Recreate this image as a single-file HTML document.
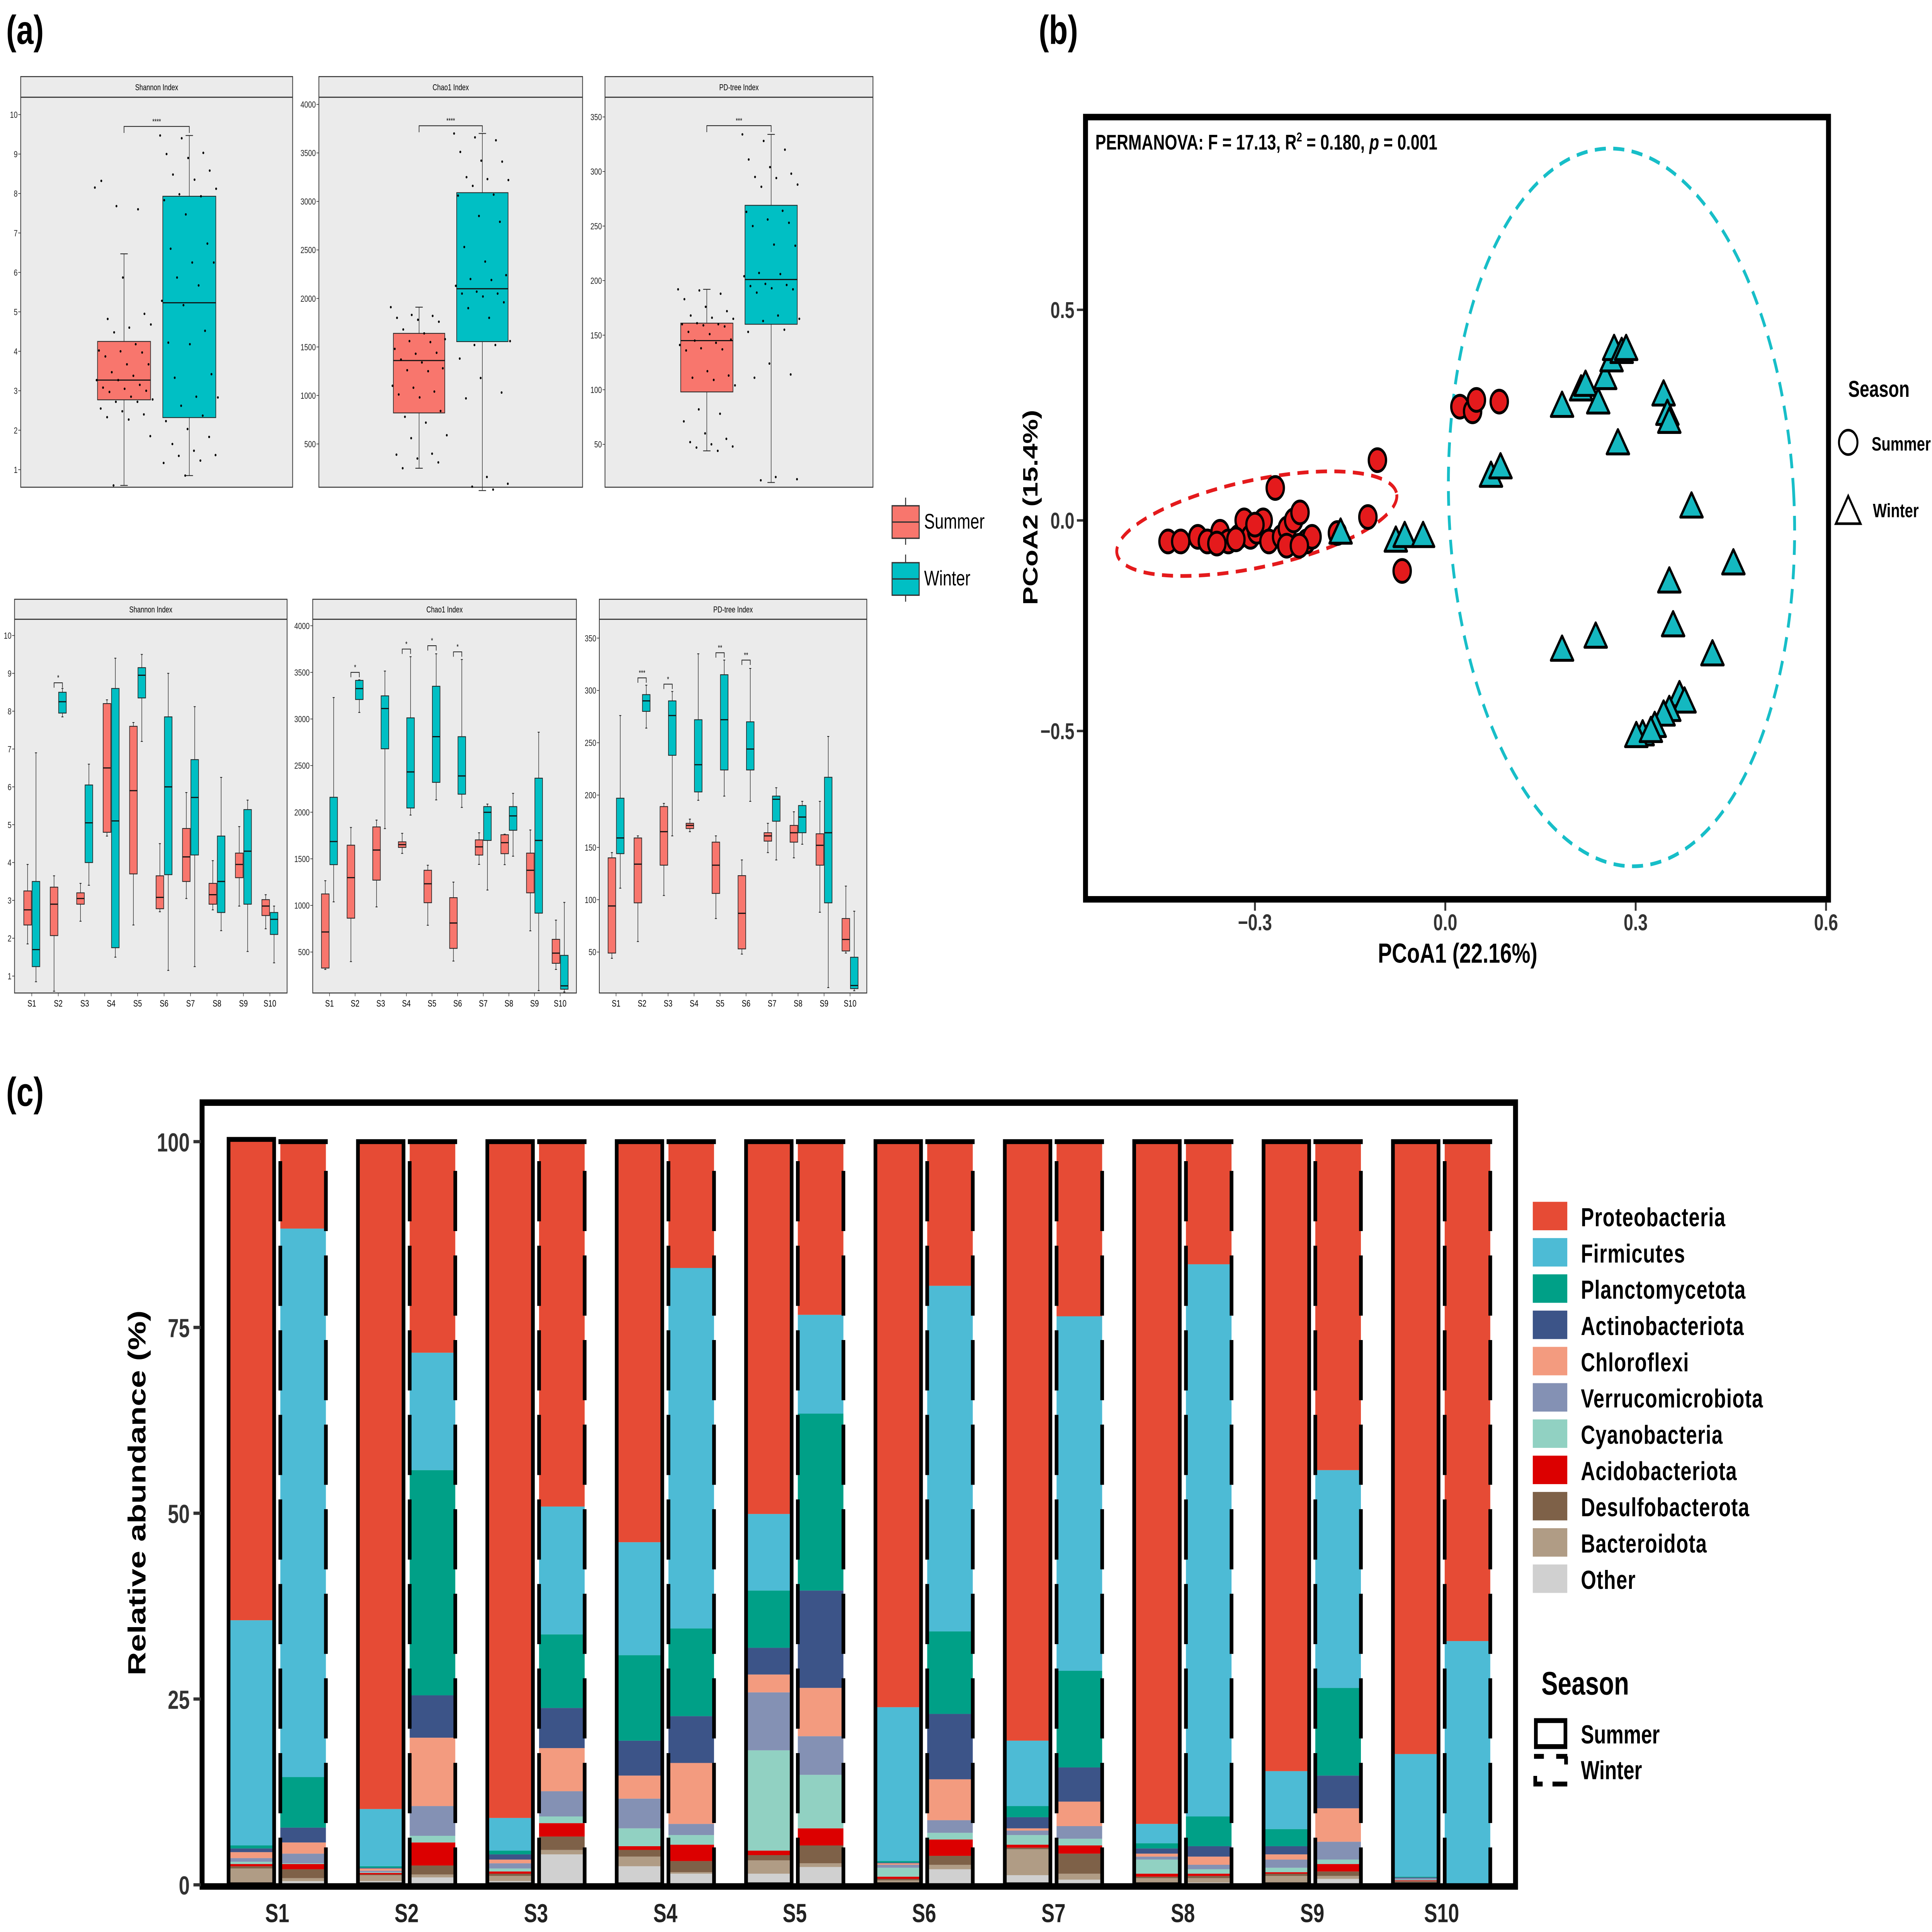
<!DOCTYPE html>
<html><head><meta charset="utf-8"><style>
html,body{margin:0;padding:0;background:#fff;width:100%;height:100%;overflow:hidden}
svg{display:block;position:fixed;left:0;top:0;width:100vw;height:100vh}
text{font-family:"Liberation Sans",Arial,sans-serif}
</style></head><body>
<svg id="fig" xmlns="http://www.w3.org/2000/svg" viewBox="0 0 1568 1188" preserveAspectRatio="none">
<rect x="0" y="0" width="1568" height="1188" fill="#fff"/>
<text x="5" y="27" font-size="25" font-weight="bold">(a)</text>
<text x="843" y="27" font-size="25" font-weight="bold">(b)</text>
<text x="5" y="680" font-size="25" font-weight="bold">(c)</text>
<g id="pa"></g>
<g id="pb"></g>
<g id="pc"></g>
</svg>
<script>
// ===== Panel (a) data =====
const sites = ["S1","S2","S3","S4","S5","S6","S7","S8","S9","S10"];
const shanSummer = [0.6,2.77,3.27,4.25,6.47];
const shanWinter = [0.85,2.32,5.23,7.93,9.47];
const chaoSummer = [250,820,1360,1640,1910];
const chaoWinter = [20,1555,2100,3090,3700];
const pdSummer = [44,98,145,161,192];
const pdWinter = [15,160,201,269,334];
const shanSumPts = [8.15,7.68,7.6,8.32,5.87,4.95,4.82,4.6,4.68,4.48,4.18,4.02,4.0,3.97,3.87,3.67,3.67,3.47,3.38,3.27,3.27,3.15,3.08,3.05,3.0,2.97,2.85,2.78,2.72,2.72,2.55,2.48,2.4,2.33,2.27,1.85,0.6];
const shanWinPts = [9.47,9.4,9.03,9.0,8.9,8.58,8.48,8.35,8.12,7.98,7.93,7.83,7.47,6.73,6.6,6.25,6.25,5.87,5.67,5.28,5.17,4.52,4.22,4.18,3.42,3.33,2.85,2.83,2.62,2.37,2.23,2.03,1.83,1.65,1.48,1.37,1.35,1.23,1.17,0.85];
const chaoSumPts = [1910,1830,1820,1800,1780,1760,1680,1640,1580,1560,1550,1480,1430,1440,1370,1340,1280,1260,1250,1100,1080,1040,1010,980,840,780,720,590,560,400,390,350,310,250];
const chaoWinPts = [3700,3660,3630,3510,3420,3410,3250,3230,3220,3160,3070,3060,2850,2790,2530,2380,2240,2200,2190,2130,2070,2050,2050,2020,1960,1900,1800,1560,1520,1520,1380,1180,1030,970,160,90,60,30];
const pdSumPts = [192,191,188,183,176,172,168,166,165,161,160,160,159,158,153,151,146,145,143,141,138,137,136,117,113,111,109,104,82,78,71,60,55,52,50,48,47,44];
const pdWinPts = [334,328,320,311,304,298,295,294,288,286,264,263,256,253,250,233,232,207,206,204,197,196,195,193,192,189,168,165,163,155,153,124,114,111,20,18,17];
const shanSiteSummer = [[1.85,2.35,2.75,3.25,3.95],[0.6,2.07,2.9,3.35,3.65],[2.45,2.9,3.05,3.2,3.45],[4.7,4.8,6.5,8.2,8.3],[2.35,3.7,5.9,7.6,7.7],[2.7,2.78,3.08,3.65,4.5],[3.05,3.5,4.15,4.9,5.85],[2.75,2.9,3.15,3.45,4.05],[2.85,3.6,3.95,4.25,4.95],[2.25,2.6,2.85,3.02,3.15]];
const shanSiteWinter = [[0.85,1.25,1.7,3.5,6.9],[7.85,7.95,8.25,8.5,8.6],[3.4,4.0,5.05,6.05,6.6],[1.5,1.75,5.1,8.6,9.4],[7.2,8.35,8.95,9.15,9.5],[1.15,3.68,6.0,7.85,9.0],[1.25,4.2,5.72,6.72,8.12],[2.2,2.68,3.5,4.7,6.25],[1.65,2.9,4.3,5.4,5.65],[1.35,2.1,2.5,2.68,2.85]];
const chaoSiteSummer = [[313,328,715,1123,1265],[397,863,1298,1646,1836],[984,1271,1594,1842,1915],[1558,1622,1652,1682,1773],[787,1029,1232,1377,1431],[403,539,811,1083,1250],[1440,1540,1628,1703,1779],[1437,1555,1673,1758,1764],[727,1135,1377,1561,1809],[313,379,488,636,842]];
const chaoSiteWinter = [[1038,1437,1685,2160,3230],[3070,3209,3326,3414,3420],[1824,2680,3112,3248,3514],[1969,2045,2432,3012,3668],[2132,2320,2810,3351,3699],[2051,2193,2389,2810,3638],[1165,1697,1999,2060,2087],[1528,1806,1960,2060,2202],[86,917,1697,2365,2858],[71,101,137,464,1032]];
const pdSiteSummer = [[44,49,94,140,145],[60,97,134,159,161],[104,133,165,189,192],[165,168,171,173,177],[82,106,133,155,161],[48,53,87,123,138],[145,156,161,164,173],[140,155,164,171,184],[88,133,152,163,194],[49,51,62,82,113]];
const pdSiteWinter = [[111,144,159,197,276],[264,280,290,296,305],[161,238,276,290,299],[195,203,229,272,335],[199,224,272,315,329],[194,224,244,270,321],[138,175,196,199,207],[153,164,179,190,194],[16,97,164,217,256],[13,15,18,45,89]];
const shanSig = [[1,8.75,"*"]];
const chaoSig = [[1,3500,"*"],[3,3750,"*"],[4,3786,"*"],[5,3720,"*"]];
const pdSig = [[1,312,"***"],[2,306,"*"],[4,336,"**"],[5,329,"**"]];

// ===== Panel (b) data =====
const sumX = [-0.437,-0.417,-0.39,-0.375,-0.355,-0.342,-0.326,-0.317,-0.307,-0.297,-0.287,-0.278,-0.268,-0.258,-0.249,-0.239,-0.229,-0.219,-0.21,-0.122,-0.107,-0.068,0.023,0.043,0.049,0.085,-0.3,-0.33,-0.36,-0.25,-0.23,-0.17];
const sumY = [-0.05,-0.05,-0.039,-0.05,-0.027,-0.05,-0.039,0.0,-0.039,-0.027,0.0,-0.05,0.077,-0.039,-0.019,0.0,0.019,-0.05,-0.039,0.008,0.143,-0.12,0.27,0.259,0.286,0.282,-0.01,-0.045,-0.055,-0.06,-0.06,-0.03];
const winX = [-0.165,-0.078,-0.064,-0.035,0.072,0.087,0.184,0.214,0.221,0.241,0.252,0.262,0.266,0.278,0.285,0.272,0.344,0.35,0.353,0.388,0.353,0.359,0.454,0.421,0.237,0.184,0.369,0.377,0.353,0.344,0.33,0.311,0.301,0.324];
const winY = [-0.031,-0.05,-0.039,-0.039,0.104,0.124,0.27,0.309,0.32,0.278,0.336,0.378,0.405,0.398,0.405,0.181,0.297,0.251,0.232,0.031,-0.147,-0.251,-0.104,-0.32,-0.278,-0.309,-0.417,-0.432,-0.452,-0.463,-0.49,-0.51,-0.514,-0.502];
const bXTicks = [-0.3,0.0,0.3,0.6];
const bXLabels = ["\u22120.3","0.0","0.3","0.6"];
const bYTicks = [0.5,0.0,-0.5];
const bYLabels = ["0.5","0.0","\u22120.5"];

// ===== Panel (c) data =====
const phyla = ["Other","Bacteroidota","Desulfobacterota","Acidobacteriota","Cyanobacteria","Verrucomicrobiota","Chloroflexi","Actinobacteriota","Planctomycetota","Firmicutes","Proteobacteria"];
const summerAb = [
 [0.3,1.9,0.3,0.3,0.3,0.5,0.8,0.5,0.4,30.3,64.7],
 [0.5,0.8,0.1,0.2,0.1,0.2,0.3,0.1,0.2,7.7,89.8],
 [0.5,0.7,0.3,0.3,0.4,0.7,0.5,0.7,0.5,4.4,91.0],
 [2.5,1.3,0.9,0.5,2.4,4.0,3.1,4.7,11.5,15.2,53.9],
 [1.5,1.8,0.7,0.6,13.5,7.8,2.4,3.6,7.7,10.3,50.1],
 [0.3,0.3,0.2,0.3,1.2,0.4,0.2,0.1,0.2,20.7,76.1],
 [1.3,3.5,0.2,0.4,1.3,0.6,0.3,1.5,1.5,8.8,80.6],
 [0.2,0.7,0.2,0.4,1.9,0.4,0.4,0.7,0.7,2.6,91.8],
 [0.3,0.9,0.3,0.2,0.6,1.1,0.7,1.1,2.3,7.8,84.7],
 [0.2,0.2,0.1,0.1,0.1,0.2,0.0,0.1,0.1,16.5,82.4]];
const winterAb = [
 [0.5,0.4,1.2,0.7,0.1,1.3,1.5,2.0,6.8,73.8,11.7],
 [1.0,0.4,1.2,3.1,0.9,4.0,9.2,5.7,30.3,15.8,28.4],
 [4.1,0.6,1.8,1.8,0.9,3.4,5.8,5.4,9.9,17.2,49.1],
 [1.5,0.2,1.5,2.2,1.3,1.5,8.2,6.3,11.8,48.5,17.0],
 [2.4,0.5,2.4,2.3,7.2,5.2,6.5,13.1,23.8,13.3,23.3],
 [2.1,0.6,1.2,2.2,0.9,1.7,5.5,8.8,11.1,46.5,19.4],
 [0.7,0.8,2.7,1.1,0.9,1.7,3.3,4.6,13.0,47.7,23.5],
 [0.3,0.6,0.3,0.3,0.6,0.6,1.1,1.4,4.0,74.3,16.5],
 [0.8,0.4,0.6,1.0,0.6,2.4,4.5,4.4,11.8,29.3,44.2],
 [0,0,0,0,0,0,0,0,0,32.8,67.2]];
const cYTicks = [0,25,50,75,100];
const legendOrder = ["Proteobacteria","Firmicutes","Planctomycetota","Actinobacteriota","Chloroflexi","Verrucomicrobiota","Cyanobacteria","Acidobacteriota","Desulfobacterota","Bacteroidota","Other"];
const phylaColors = {Proteobacteria:"#E64B35",Firmicutes:"#4DBBD5",Planctomycetota:"#00A087",Actinobacteriota:"#3C5488",Chloroflexi:"#F39B7F",Verrucomicrobiota:"#8491B4",Cyanobacteria:"#91D1C2",Acidobacteriota:"#DC0000",Desulfobacterota:"#7E6148",Bacteroidota:"#B09C85",Other:"#D0D0D0"};

const NS="http://www.w3.org/2000/svg";
function mk(parent,tag,attrs,txt){const e=document.createElementNS(NS,tag);for(const k in attrs)e.setAttribute(k,attrs[k]);if(txt!==undefined)e.textContent=txt;parent.appendChild(e);return e;}
const SUMC="#F8766D", WINC="#00BFC4";

// ---------- Panel a ----------
const pa=document.getElementById('pa');
function facet(x0,x1,yS,yP,yB,title,scale,ticks){
  const g=mk(pa,'g',{});
  
  
  mk(g,'rect',{x:x0,y:yS,width:x1-x0,height:yB-yS,fill:'#EBEBEB',stroke:'#333','stroke-width':0.6});
  mk(g,'line',{x1:x0,x2:x1,y1:yP,y2:yP,stroke:'#333','stroke-width':0.7});
  const t=mk(g,'text',{x:(x0+x1)/2,y:(yS+yP)/2+2,'font-size':5.2,'text-anchor':'middle'},title);
  
  
  ticks.forEach(v=>{const y=scale(v);
    mk(g,'line',{x1:x0-2,x2:x0,y1:y,y2:y,stroke:'#333','stroke-width':0.4});
    const l=mk(g,'text',{x:x0-2.5,y:y+2,'font-size':5.6,'text-anchor':'end',fill:'#222'},String(v));
    
    
  });
  return g;
}
function box(g,cx,w,st,scale,col,cap){
  const [lo,q1,md,q3,hi]=st;
  const b=mk(g,'g',{});
  
  
  mk(b,'line',{x1:cx,x2:cx,y1:scale(lo),y2:scale(hi),stroke:'#222','stroke-width':0.4});
  mk(b,'line',{x1:cx-cap,x2:cx+cap,y1:scale(lo),y2:scale(lo),stroke:'#222','stroke-width':0.5});
  mk(b,'line',{x1:cx-cap,x2:cx+cap,y1:scale(hi),y2:scale(hi),stroke:'#222','stroke-width':0.5});
  mk(b,'rect',{x:cx-w/2,y:scale(q3),width:w,height:scale(q1)-scale(q3),fill:col,stroke:'#222','stroke-width':0.5});
  mk(b,'line',{x1:cx-w/2,x2:cx+w/2,y1:scale(md),y2:scale(md),stroke:'#111','stroke-width':0.7});
}
function pts(g,cx,w,vals,scale){
  vals.forEach((v,i)=>{const dx=(((i*37)%100)/100-0.5)*w;
    const c=mk(g,'circle',{cx:cx+dx,cy:scale(v),r:0.75,fill:'#000'});
    
    
  });
}
function sig(g,xa,xb,y,lab,tick){
  mk(g,'path',{d:`M${xa},${y+tick} V${y} H${xb} V${y+tick}`,fill:'none',stroke:'#222','stroke-width':0.5});
  const t=mk(g,'text',{x:(xa+xb)/2,y:y-1.5,'font-size':4.5,'text-anchor':'middle'},lab);
  
  
}
const sT=v=>288.8-(v-1)*24.26, cT=v=>273-(v-500)/500*29.83, pT=v=>273.2-(v-50)/50*33.55;
const topDefs=[
 [16.8,237.5,"Shannon Index",sT,[1,2,3,4,5,6,7,8,9,10],shanSummer,shanWinter,shanSumPts,shanWinPts,9.7,"****"],
 [258.8,472.8,"Chao1 Index",cT,[500,1000,1500,2000,2500,3000,3500,4000],chaoSummer,chaoWinter,chaoSumPts,chaoWinPts,3780,"****"],
 [491,708.5,"PD-tree Index",pT,[50,100,150,200,250,300,350],pdSummer,pdWinter,pdSumPts,pdWinPts,342,"***"]];
topDefs.forEach(d=>{
  const [x0,x1,tt,sc,tk,bs,bw,ps,pw,sy,sl]=d;
  const g=facet(x0,x1,47.1,59.8,299.6,tt,sc,tk);
  const W=x1-x0, cs=x0+W*0.38, cw=x0+W*0.62, bwid=W*0.195;
  box(g,cs,bwid,bs,sc,SUMC,3); box(g,cw,bwid,bw,sc,WINC,3);
  pts(g,cs,bwid*1.1,ps,sc); pts(g,cw,bwid*1.1,pw,sc);
  sig(g,cs,cw,sc(sy),sl,4);
});
const sB=v=>600.2-(v-1)*23.27, cB=v=>585.4-(v-500)/500*28.66, pB=v=>585.4-(v-50)/50*32.17;
const botDefs=[
 [11.8,233,"Shannon Index",sB,[1,2,3,4,5,6,7,8,9,10],shanSiteSummer,shanSiteWinter,25.8,21.47,shanSig],
 [253.8,467.8,"Chao1 Index",cB,[500,1000,1500,2000,2500,3000,3500,4000],chaoSiteSummer,chaoSiteWinter,267.4,20.8,chaoSig],
 [486.4,703.5,"PD-tree Index",pB,[50,100,150,200,250,300,350],pdSiteSummer,pdSiteWinter,500,21.1,pdSig]];
botDefs.forEach(d=>{
  const [x0,x1,tt,sc,tk,ss,sw,c0,pitch,sg]=d;
  const g=facet(x0,x1,368.5,380.8,610.6,tt,sc,tk);
  sites.forEach((s,i)=>{const cx=c0+i*pitch;
    box(g,cx-3.4,6.2,ss[i],sc,SUMC,0.8); box(g,cx+3.4,6.2,sw[i],sc,WINC,0.8);
    mk(g,'line',{x1:cx,x2:cx,y1:610.6,y2:612.6,stroke:'#333','stroke-width':0.4});
    const l=mk(g,'text',{x:cx,y:619,'font-size':5.8,'text-anchor':'middle'},s);
    
    
  });
  sg.forEach(q=>{const cx=c0+q[0]*pitch; sig(g,cx-3.4,cx+3.4,sc(q[1]),q[2],3);});
});
[["Summer",SUMC,309],["Winter",WINC,344]].forEach(r=>{
  const g=mk(pa,'g',{});
  
  
  mk(g,'line',{x1:735,x2:735,y1:r[2]-3,y2:r[2]+26,stroke:'#333','stroke-width':0.8});
  mk(g,'rect',{x:724,y:r[2]+2,width:22,height:20,fill:r[1],stroke:'#333','stroke-width':0.8});
  mk(g,'line',{x1:724,x2:746,y1:r[2]+12,y2:r[2]+12,stroke:'#333','stroke-width':0.8});
  mk(g,'text',{x:750,y:r[2]+16,'font-size':13},r[0]);
});

// ---------- Panel b ----------
const pb=document.getElementById('pb');
const bx=v=>1173+v*515, by=v=>320-v*259;
mk(pb,'text',{x:889,y:92,'font-size':13,'font-weight':'bold'}).innerHTML='PERMANOVA:  F = 17.13, R<tspan font-size="8" dy="-5">2</tspan><tspan dy="5"> = 0.180, </tspan><tspan font-style="italic">p</tspan> = 0.001';
const e1=mk(pb,'ellipse',{cx:1020,cy:322,rx:115,ry:27,transform:'rotate(-9 1020 322)',fill:'none',stroke:'#E41A1C','stroke-width':2.3,'stroke-dasharray':'9 6'});


const e2=mk(pb,'ellipse',{cx:1316,cy:312,rx:140,ry:221,transform:'rotate(-4 1316 312)',fill:'none',stroke:'#17BEC8','stroke-width':2.3,'stroke-dasharray':'9 6'});


sumX.forEach((v,i)=>{const c=mk(pb,'circle',{cx:bx(v),cy:by(sumY[i]),r:7,fill:'#E41A1C',stroke:'#000','stroke-width':1.8});
  
  });
winX.forEach((v,i)=>{const x=bx(v),y=by(winY[i]);
  const t=mk(pb,'path',{d:`M${x},${y-9} L${x+9},${y+6} L${x-9},${y+6} Z`,fill:'#14B8C0',stroke:'#000','stroke-width':1.8,'stroke-linejoin':'round'});
  
  });
const fb=mk(pb,'rect',{x:881,y:72,width:603,height:481,fill:'none',stroke:'#000','stroke-width':4});


bXTicks.forEach((v,i)=>{mk(pb,'line',{x1:bx(v),x2:bx(v),y1:555,y2:560,stroke:'#333','stroke-width':1.5});
  const l=mk(pb,'text',{x:bx(v),y:572,'font-size':14,'font-weight':'bold','text-anchor':'middle',fill:'#333'},bXLabels[i]);
  
  });
bYTicks.forEach((v,i)=>{mk(pb,'line',{x1:874,x2:879,y1:by(v),y2:by(v),stroke:'#333','stroke-width':1.5});
  const l=mk(pb,'text',{x:872,y:by(v)+5,'font-size':14,'font-weight':'bold','text-anchor':'end',fill:'#333'},bYLabels[i]);
  
  });
const bxt=mk(pb,'text',{x:1183,y:592,'font-size':17,'font-weight':'bold','text-anchor':'middle'},'PCoA1 (22.16%)');


const byt=mk(pb,'text',{x:842,y:312,'font-size':17,'font-weight':'bold','text-anchor':'middle',transform:'rotate(-90 842 312)'},'PCoA2 (15.4%)');


mk(pb,'text',{x:1500,y:244,'font-size':14,'font-weight':'bold'},'Season');
mk(pb,'circle',{cx:1500,cy:272,r:7.5,fill:'none',stroke:'#000','stroke-width':1.6});
mk(pb,'text',{x:1519,y:277,'font-size':12,'font-weight':'bold'},'Summer');
mk(pb,'path',{d:'M1500,305 L1510,322 L1490,322 Z',fill:'none',stroke:'#000','stroke-width':1.6});
mk(pb,'text',{x:1520,y:318,'font-size':12,'font-weight':'bold'},'Winter');

// ---------- Panel c ----------
const pc=document.getElementById('pc');
const cy=v=>1159-v*4.57;
const cat0=225, cpitch=105, bw=37;
sites.forEach((s,i)=>{
  const cx=cat0+i*cpitch;
  [[summerAb[i],cx-21,'summer'],[winterAb[i],cx+21,'winter']].forEach(([vals,xc,season])=>{
    const g=mk(pc,'g',{});
    
    
    let cum=0; const x=xc-bw/2;
    vals.forEach((v,k)=>{ if(v<=0){return;}
      const r=mk(g,'rect',{x:x,y:cy(cum+v),width:bw,height:cy(cum)-cy(cum+v),fill:phylaColors[phyla[k]]});
      
      
      cum+=v;});
    const top=cy(cum);
    if(season==='summer'){
      mk(g,'rect',{x:x,y:top,width:bw,height:1159-top,fill:'none',stroke:'#000','stroke-width':3});
    } else {
      mk(g,'line',{x1:x-1.5,x2:x+bw+1.5,y1:top,y2:top,stroke:'#000','stroke-width':3});
      mk(g,'line',{x1:x,x2:x,y1:top+12,y2:1159,stroke:'#000','stroke-width':3,'stroke-dasharray':'37 15'});
      mk(g,'line',{x1:x+bw,x2:x+bw,y1:top+18,y2:1159,stroke:'#000','stroke-width':3,'stroke-dasharray':'37 15'});
    }
  });
  const l=mk(pc,'text',{x:cx,y:1182,'font-size':16,'font-weight':'bold','text-anchor':'middle',fill:'#222'},s);
  
  
});
const fc=mk(pc,'rect',{x:164,y:678,width:1066,height:482,fill:'none',stroke:'#000','stroke-width':4});


cYTicks.forEach(v=>{mk(pc,'line',{x1:157,x2:163,y1:cy(v),y2:cy(v),stroke:'#333','stroke-width':2});
  const l=mk(pc,'text',{x:154,y:cy(v)+6,'font-size':16,'font-weight':'bold','text-anchor':'end',fill:'#333'},String(v));
  
  });
const cyt=mk(pc,'text',{x:118,y:918,'font-size':20,'font-weight':'bold','text-anchor':'middle',transform:'rotate(-90 118 918)'},'Relative abundance (%)');


legendOrder.forEach((p,i)=>{
  const y=739+i*22.3;
  const g=mk(pc,'g',{});
  
  
  mk(g,'rect',{x:1244,y:y,width:28,height:17.5,fill:phylaColors[p]});
  mk(g,'text',{x:1283,y:y+15,'font-size':16,'font-weight':'bold','letter-spacing':0.4},p);
});
mk(pc,'text',{x:1251,y:1042,'font-size':20,'font-weight':'bold'},'Season');
mk(pc,'rect',{x:1246.5,y:1058,width:24,height:16,fill:'none',stroke:'#000','stroke-width':3});
mk(pc,'path',{d:'M1245,1080 H1253 M1263,1080 H1272 M1271,1080 V1085 M1246,1092 V1097 H1252 M1260,1097 H1272',fill:'none',stroke:'#000','stroke-width':3});
mk(pc,'text',{x:1283,y:1072,'font-size':16,'font-weight':'bold'},'Summer');
mk(pc,'text',{x:1283,y:1094,'font-size':16,'font-weight':'bold'},'Winter');
</script>
</body></html>
